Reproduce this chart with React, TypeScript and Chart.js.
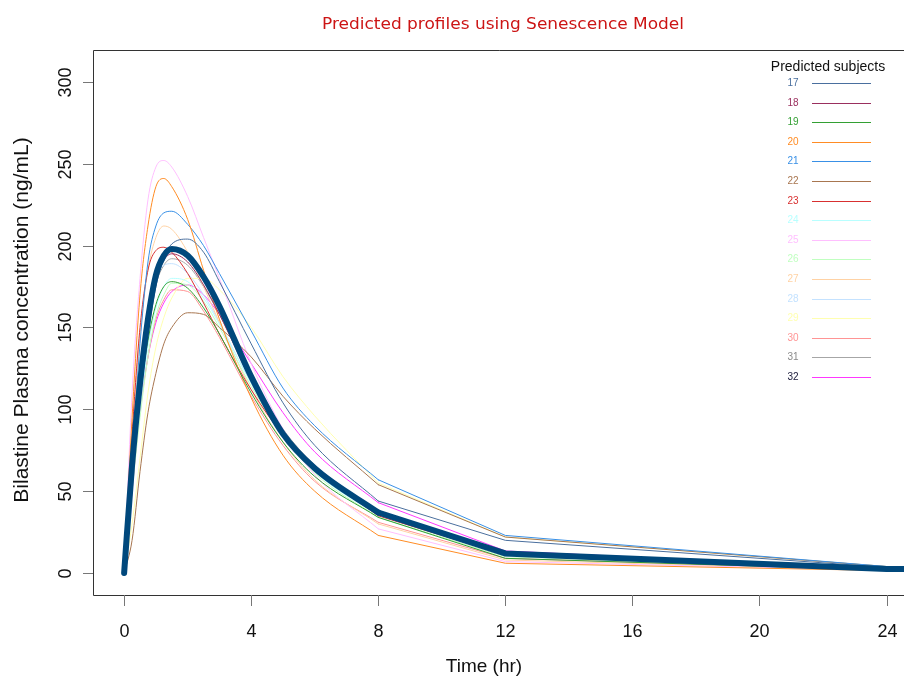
import React, { useEffect, useRef } from "react";
import { Chart, registerables } from "chart.js";

Chart.register(...registerables);

// ---------------- DATA ----------------
const TIMES = [0, 0.25, 0.5, 0.75, 1, 1.25, 1.5, 2, 2.5, 3, 4, 5, 6, 8, 12, 24, 36];

const SUBJECTS = ["17", "18", "19", "20", "21", "22", "23", "24", "25", "26", "27", "28", "29", "30", "31", "32"];

const S17 = [0, 55, 105, 145, 175, 192, 201, 204, 196, 178, 140, 104, 78, 44, 20, 3.5, 0.8];
const S18 = [0, 62, 112, 152, 178, 191, 195, 190, 176, 158, 118, 86, 63, 36, 12, 2.2, 0.4];
const S19 = [0, 60, 108, 142, 164, 175, 178, 174, 162, 146, 110, 80, 59, 34, 9, 1.8, 0.3];
const S20 = [0, 95, 170, 212, 236, 241, 236, 216, 185, 155, 107, 72, 50, 23, 6, 1.5, 0.3];
const S21 = [0, 70, 140, 190, 212, 220, 221, 213, 200, 183, 148, 113, 90, 57, 23, 4, 1];
const S22 = [0, 20, 62, 98, 122, 140, 150, 159, 158, 150, 132, 108, 88, 54, 22, 4, 1];
const S23 = [0, 85, 150, 185, 197, 199, 196, 183, 165, 146, 112, 84, 63, 35, 11, 2, 0.4];
const S24 = [0, 55, 100, 138, 162, 175, 180, 178, 168, 152, 116, 85, 62, 35, 11, 2, 0.4];
const S25 = [0, 110, 180, 228, 248, 252, 248, 230, 205, 180, 128, 88, 60, 27, 7, 1.8, 0.3];
const S26 = [0, 50, 95, 132, 157, 170, 177, 176, 166, 150, 114, 84, 61, 34, 10, 2, 0.4];
const S27 = [0, 80, 145, 185, 205, 212, 210, 196, 175, 153, 112, 80, 57, 30, 8, 1.6, 0.3];
const S28 = [0, 65, 120, 160, 180, 188, 189, 183, 170, 153, 116, 86, 64, 36, 12, 2.2, 0.4];
const S29 = [0, 30, 70, 110, 138, 156, 168, 180, 180, 173, 150, 120, 96, 55, 22, 4, 1];
const S30 = [0, 52, 98, 132, 155, 167, 173, 172, 160, 144, 108, 78, 56, 31, 9, 1.7, 0.3];
const S31 = [0, 58, 110, 150, 176, 188, 192, 188, 175, 158, 120, 88, 66, 38, 13, 2.5, 0.5];
const S32 = [0, 50, 100, 132, 153, 165, 172, 176, 170, 158, 128, 98, 74, 43, 13.5, 2.5, 0.5];
const MEAN = [0, 66, 116, 155, 182, 194, 198, 194, 181, 163, 120, 85, 64, 37, 12, 2.5, 0.5];

const SERIES = [S17, S18, S19, S20, S21, S22, S23, S24, S25, S26, S27, S28, S29, S30, S31, S32];

const X_TICKS = [0, 4, 8, 12, 16, 20, 24];
const Y_TICKS = [0, 50, 100, 150, 200, 250, 300];

// the profiles are smooth up to this time and joined by straight lines after it
const SMOOTH_UNTIL = 8;

const TITLE = "Predicted profiles using Senescence Model";
const X_TITLE = "Time (hr)";
const Y_TITLE = "Bilastine Plasma concentration (ng/mL)";
const LEGEND_TITLE = "Predicted subjects";

// ---------------- STYLE ----------------
const COLORS = [
  "#4a6f9e", "#9a2f5e", "#33a033", "#ff8c24", "#3990e6", "#a87650", "#d83030", "#b8ffff",
  "#ffbfff", "#c0ffc0", "#ffd2a4", "#c4e2ff", "#ffffb0", "#ff9494", "#a6a6a6", "#ff38ff",
];
const LABEL_COLORS = [
  "#4a6f9e", "#9a2f5e", "#33a033", "#ff8c24", "#3990e6", "#a87650", "#d83030", "#b8ffff",
  "#ffbfff", "#c0ffc0", "#ffd2a4", "#c4e2ff", "#ffffb0", "#ff9494", "#8a8a8a", "#1a1a3a",
];
const MEAN_COLOR = "#00487c";
const FONT = "'Liberation Sans', Arial, sans-serif";

const decorPlugin = {
  id: "rdecor",
  afterDraw(chart: any) {
    const { ctx, chartArea: a, scales } = chart;
    const x = scales.x;
    const y = scales.y;
    ctx.save();

    // box
    ctx.strokeStyle = "#333";
    ctx.lineWidth = 1;
    ctx.beginPath();
    ctx.moveTo(a.right + 20, a.top + 0.5);
    ctx.lineTo(a.left + 0.5, a.top + 0.5);
    ctx.lineTo(a.left + 0.5, a.bottom + 0.5);
    ctx.lineTo(a.right + 20, a.bottom + 0.5);
    ctx.stroke();

    // y ticks
    ctx.strokeStyle = "#777";
    ctx.fillStyle = "#111";
    ctx.font = "18px " + FONT;
    Y_TICKS.forEach((v) => {
      const py = Math.round(y.getPixelForValue(v)) + 0.5;
      ctx.beginPath();
      ctx.moveTo(a.left - 10, py);
      ctx.lineTo(a.left, py);
      ctx.stroke();
      ctx.save();
      ctx.translate(66, py);
      ctx.rotate(-Math.PI / 2);
      ctx.textAlign = "center";
      ctx.textBaseline = "middle";
      ctx.fillText(String(v), 0, 0);
      ctx.restore();
    });

    // x ticks
    X_TICKS.forEach((v) => {
      const px = Math.round(x.getPixelForValue(v)) + 0.5;
      ctx.beginPath();
      ctx.moveTo(px, a.bottom);
      ctx.lineTo(px, a.bottom + 11);
      ctx.stroke();
      ctx.textAlign = "center";
      ctx.textBaseline = "middle";
      ctx.fillText(String(v), px, 632);
    });

    // axis titles
    ctx.textAlign = "center";
    ctx.textBaseline = "middle";
    ctx.font = "19px " + FONT;
    ctx.fillText(X_TITLE, 484, 667);
    ctx.save();
    ctx.font = "21px " + FONT;
    ctx.translate(22, 320);
    ctx.rotate(-Math.PI / 2);
    ctx.fillText(Y_TITLE, 0, 0);
    ctx.restore();

    // main title
    ctx.font = "16px 'DejaVu Sans', Verdana, sans-serif";
    ctx.fillStyle = "#cc1414";
    const tw = ctx.measureText(TITLE).width;
    const sx = 362 / tw;
    ctx.save();
    ctx.translate(503, 25);
    ctx.scale(sx, 1);
    ctx.fillText(TITLE, 0, 0);
    ctx.restore();

    // legend
    ctx.font = "14px " + FONT;
    ctx.fillStyle = "#111";
    ctx.fillText(LEGEND_TITLE, 828, 67);
    ctx.font = "10px " + FONT;
    SUBJECTS.forEach((s, i) => {
      const ly = Math.round(83 + i * 19.6);
      ctx.fillStyle = LABEL_COLORS[i];
      ctx.fillText(s, 793, ly);
      ctx.strokeStyle = COLORS[i];
      ctx.beginPath();
      ctx.moveTo(812, ly + 0.5);
      ctx.lineTo(871, ly + 0.5);
      ctx.stroke();
    });

    ctx.restore();
  },
};

export default function App() {
  const ref = useRef<HTMLCanvasElement | null>(null);

  useEffect(() => {
    if (!ref.current) return;
    const head = (arr: number[]) =>
      TIMES.map((t, i) => ({ x: t, y: arr[i] })).filter((p) => p.x <= SMOOTH_UNTIL);
    const tail = (arr: number[]) =>
      TIMES.map((t, i) => ({ x: t, y: arr[i] })).filter((p) => p.x >= SMOOTH_UNTIL);
    const make = (label: string, arr: number[], color: string, width: number) => [
      {
        label,
        data: head(arr),
        borderColor: color,
        borderWidth: width,
        pointRadius: 0,
        cubicInterpolationMode: "monotone",
        borderCapStyle: "round",
      },
      {
        label: label + " (tail)",
        data: tail(arr),
        borderColor: color,
        borderWidth: width,
        pointRadius: 0,
        tension: 0,
        borderCapStyle: "round",
      },
    ];
    const datasets: any[] = [
      ...make("Mean", MEAN, MEAN_COLOR, 6),
      ...SERIES.flatMap((arr, i) => make(SUBJECTS[i], arr, COLORS[i], 1)),
    ];
    const chart = new Chart(ref.current, {
      type: "line",
      data: { datasets },
      options: {
        animation: false,
        responsive: false,
        devicePixelRatio: 1,
        layout: { padding: { left: 93, top: 50, right: 0, bottom: 83 } },
        plugins: { legend: { display: false }, tooltip: { enabled: false }, title: { display: false } },
        scales: {
          x: { type: "linear", min: -0.98, max: 24.55, display: false },
          y: { type: "linear", min: -13.4, max: 319.5, display: false },
        },
      },
      plugins: [decorPlugin],
    });
    return () => chart.destroy();
  }, []);

  return (
    <div style={{ position: "absolute", left: 0, top: 0, width: 904, height: 678, background: "#fff" }}>
      <canvas ref={ref} width={904} height={678} style={{ display: "block" }} />
    </div>
  );
}
